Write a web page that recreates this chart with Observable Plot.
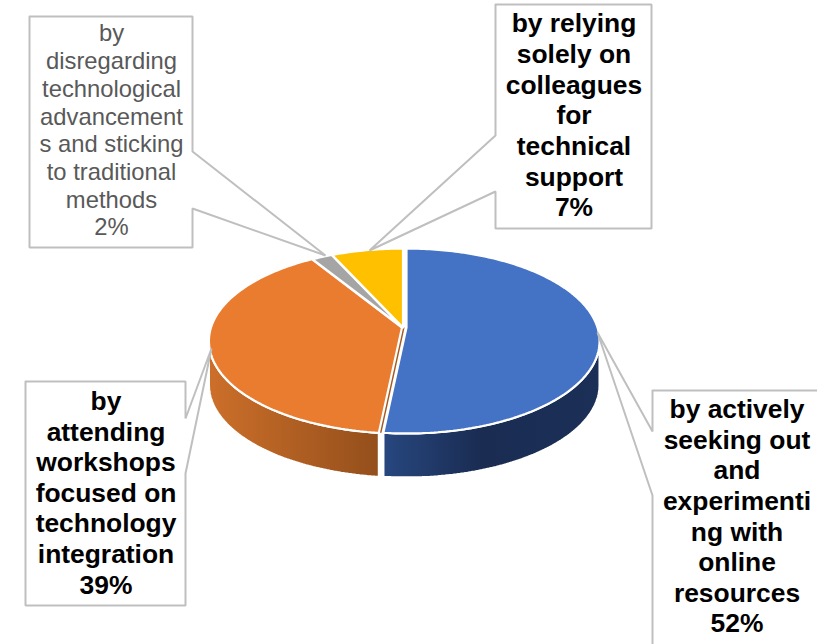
<!DOCTYPE html>
<html>
<head>
<meta charset="utf-8">
<script src="https://cdn.jsdelivr.net/npm/d3@7"></script>
<script src="https://cdn.jsdelivr.net/npm/@observablehq/plot@0.6"></script>
<style>html,body{margin:0;padding:0;background:#fff;overflow:hidden}svg{display:block}</style>
</head>
<body>
<div id="chart"></div>
<script>
// Data, clockwise from twelve o'clock
const categories = [
  "by actively\nseeking out\nand\nexperimenti\nng with\nonline\nresources",
  "by\nattending\nworkshops\nfocused on\ntechnology\nintegration",
  "by\ndisregarding\ntechnological\nadvancement\ns and sticking\nto traditional\nmethods",
  "by relying\nsolely on\ncolleagues\nfor\ntechnical\nsupport"
];
const shares = [51.65, 39.45, 2.0, 6.9];
const topColors = ["#4472c4", "#ea7c30", "#a5a5a5", "#ffc000"];
const textColors = ["#000000", "#000000", "#595959", "#000000"];
const fontWeights = ["bold", "bold", "normal", "bold"];
const fontSizes = [26.4, 26.4, 23.8, 26.4];
const lineHeights = [1.16, 1.16, 1.165, 1.16];

// Layout of the callouts (page pixels): box, tail anchors on the box side, tip on the pie
const callouts = [
  {x1: 652, x2: 830, y1: 390, y2: 660, side: "left",   a: 431, b: 495, tip: [597, 332], tx: 736.5, ty: 515},
  {x1: 25,  x2: 185, y1: 381, y2: 605, side: "right",  a: 418, b: 473, tip: [211, 348], tx: 105.5, ty: 491.5},
  {x1: 29,  x2: 192, y1: 16,  y2: 247, side: "right",  a: 151, b: 208, tip: [325, 255], tx: 111, ty: 129},
  {x1: 495, x2: 651, y1: 4,   y2: 228, side: "left",   a: 135, b: 191, tip: [369, 250], tx: 573.5, ty: 114}
];

// Pie projection: a disc seen in perspective, with a rim below it
const pie = {cx: 404.5, cy: 327, a: 90.5, b: 191, p: 0.146, depth: 44};
const sliceOffsets = [1.5, -3, -2.5, -2];
const project = (t, dx = 0, dy = 0) => {
  const u = Math.sin(t), v = -Math.cos(t), d = 1 - pie.p * v;
  return {x: pie.cx + dx + pie.b * u / d, y: pie.cy + pie.a * v / d + dy};
};
const arc = (t0, t1, dx = 0, dy = 0) => {
  const n = Math.max(2, Math.ceil(Math.abs(t1 - t0) * 180 / Math.PI));
  return d3.range(n + 1).map(i => project(t0 + (t1 - t0) * i / n, dx, dy));
};

const total = d3.sum(shares);
const cum = d3.cumsum(shares);
const angle = s => s / total * 2 * Math.PI;
const slices = shares.map((s, i) => ({
  t0: angle(i ? cum[i - 1] : 0), t1: angle(cum[i]), color: topColors[i], dx: sliceOffsets[i]
}));

const tRight = Math.acos(-pie.p);            // horizontal extremes of the projected disc
const tLeft = 2 * Math.PI - tRight;
const rimPath = (t0, t1, dx) => {
  const top = arc(t0, t1, dx), low = arc(t1, t0, dx, pie.depth);
  return [...top, ...low, top[0]];
};
const topPath = s => {
  const c = {x: pie.cx + s.dx, y: pie.cy};
  return [c, ...arc(s.t0, s.t1, s.dx), c];
};
const boxPath = c => {
  const tip = {x: c.tip[0], y: c.tip[1]};
  return c.side === "left"
    ? [{x:c.x1,y:c.y1},{x:c.x2,y:c.y1},{x:c.x2,y:c.y2},{x:c.x1,y:c.y2},{x:c.x1,y:c.b},tip,{x:c.x1,y:c.a},{x:c.x1,y:c.y1}]
    : [{x:c.x1,y:c.y1},{x:c.x2,y:c.y1},{x:c.x2,y:c.a},tip,{x:c.x2,y:c.b},{x:c.x2,y:c.y2},{x:c.x1,y:c.y2},{x:c.x1,y:c.y1}];
};
const line = (pts, fill, stroke, strokeWidth, extra = {}) =>
  Plot.line(pts, {x: "x", y: "y", fill, stroke, strokeWidth, curve: "linear", strokeLinejoin: "miter", ...extra});

const seam = slices[0].t1;
// The orange slice's cut face, seen through the gap between the two large slices
const cutFace = (() => {
  const o = slices[1], c = {x: pie.cx + o.dx, y: pie.cy}, e = project(seam, o.dx);
  return [c, e, {x: e.x + 2.6, y: e.y}, {x: c.x + 2.6, y: c.y}, c];
})();

const chart = Plot.plot({
  width: 817, height: 644,
  margin: 0,
  x: {domain: [0, 817], range: [0, 817], axis: null},
  y: {domain: [0, 644], range: [0, 644], axis: null},
  marks: [
    line(rimPath(tRight, seam, slices[0].dx), "url(#rimBlue)", "white", 2.2),
    line(rimPath(seam, tLeft, slices[1].dx), "url(#rimOrange)", "white", 2.2),
    line(cutFace, "#a5591f", "none", 0),
    ...slices.map(s => line(topPath(s), s.color, "white", 2.2)),
    ...callouts.map(c => line(boxPath(c), "white", "#bfbfbf", 2, {clip: true})),
    ...categories.map((label, i) => Plot.text([callouts[i]], {
      x: "tx", y: "ty",
      text: () => `${label}\n${Math.round(shares[i])}%`,
      fill: textColors[i], fontWeight: fontWeights[i], fontSize: fontSizes[i],
      lineHeight: lineHeights[i], fontFamily: "Liberation Sans", textAnchor: "middle", lineAnchor: "middle"
    }))
  ]
});
d3.select(chart).append("defs").html(`
  <linearGradient id="rimBlue" x1="0" x2="1" y1="0" y2="0">
    <stop offset="0" stop-color="#27477f"/><stop offset="0.45" stop-color="#1a2c52"/><stop offset="1" stop-color="#1b2f57"/>
  </linearGradient>
  <linearGradient id="rimOrange" x1="0" x2="1" y1="0" y2="0">
    <stop offset="0" stop-color="#cc6f2a"/><stop offset="1" stop-color="#944f1b"/>
  </linearGradient>`);
document.getElementById("chart").append(chart);
</script>
</body>
</html>
